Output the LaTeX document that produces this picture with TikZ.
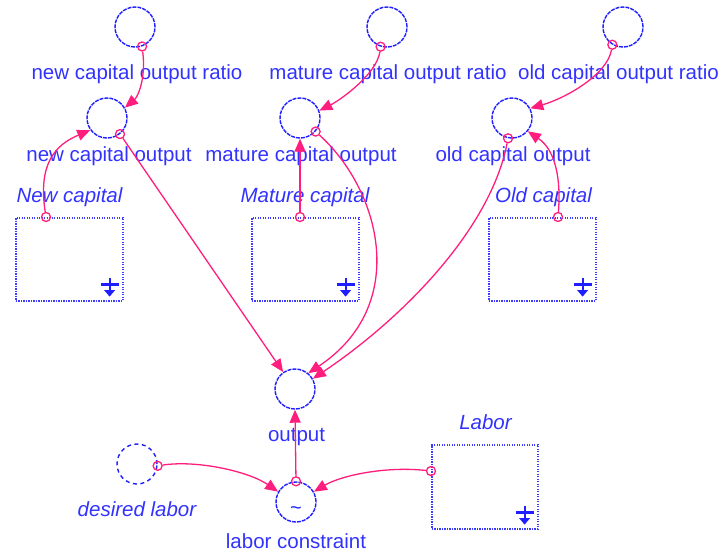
\documentclass[tikz,border=0pt]{standalone}
\usepackage{fontspec}
\setmainfont{Liberation Sans}
\usetikzlibrary{arrows.meta,calc}
\definecolor{cblue}{RGB}{30,30,255}
\definecolor{tblue}{RGB}{50,50,255}
\definecolor{bblue}{RGB}{60,60,255}
\definecolor{lpink}{RGB}{255,30,125}
\begin{document}
\begin{tikzpicture}[x=1pt,y=-1pt,
 aux/.style={circle,draw=cblue,line width=1.4pt,dash pattern=on 4pt off 1pt,minimum size=40pt,inner sep=0pt},
 ghost/.style={aux,dash pattern=on 4pt off 3.5pt},
 lvl/.style={draw=bblue,line width=1.6pt,dash pattern=on 1.3pt off 1.2pt,minimum width=107pt,minimum height=83pt,inner sep=0pt,anchor=north west},
 lab/.style={text=tblue,font=\fontsize{20.5}{24}\selectfont,inner sep=0pt,anchor=base},
 ilab/.style={lab,font=\fontsize{20.5}{24}\selectfont\itshape},
 srcdot/.style={circle,draw=lpink,line width=1.3pt,minimum size=9pt,inner sep=0pt},
 link/.style={draw=lpink,line width=1.3pt,-{Triangle[length=13pt,width=11pt]}},
]
\useasboundingbox (0,0) rectangle (727,555);
% auxiliaries
\node[aux] (ncor) at (135,27) {};
\node[aux] (ncout) at (107,118) {};
\node[aux] (mcor) at (387,27) {};
\node[aux] (mcout) at (300,118) {};
\node[aux] (ocor) at (623,27) {};
\node[aux] (ocout) at (512,118) {};
\node[aux] (out) at (295,389) {};
\node[aux] (lc) at (296,502) {};
\node[ghost] (dl) at (137,464) {};
\node[text=cblue,font=\fontsize{20}{20}\selectfont,inner sep=0pt] (lcT) at (296,511) {\textasciitilde};
% stocks
\node[lvl] (NC) at (15,217) {};
\node[lvl] (MC) at (251,217) {};
\node[lvl] (OC) at (488,217) {};
\node[lvl,minimum height=84pt,minimum width=106pt] (LB) at (431,444) {};
\foreach \b in {NC,MC,OC,LB}{
  \draw[cblue,line width=2.8pt] ([shift={(-23,-17)}]\b.south east) -- ([shift={(-5,-17)}]\b.south east);
  \draw[cblue,line width=2.2pt] ([shift={(-14,-24)}]\b.south east) -- ([shift={(-14,-9)}]\b.south east);
  \fill[cblue] ([shift={(-19.5,-11.5)}]\b.south east) -- ([shift={(-8.5,-11.5)}]\b.south east) -- ([shift={(-14,-5)}]\b.south east) -- cycle;
}
% labels
\node[lab] (ncorL) at (137,79) {new capital output ratio};
\node[lab] (mcorL) at (388,79) {mature capital output ratio};
\node[lab] (ocorL) at (618.5,79) {old capital output ratio};
\node[lab] (ncoutL) at (109,161) {new capital output};
\node[lab] (mcoutL) at (301,161) {mature capital output};
\node[lab] (ocoutL) at (513,161) {old capital output};
\node[ilab] (NCL) at (69.5,202) {New capital};
\node[ilab] (MCL) at (305,202) {Mature capital};
\node[ilab] (OCL) at (543.5,202) {Old capital};
\node[ilab] (LBL) at (485.5,429) {Labor};
\node[lab] (outL) at (296.5,441) {output};
\node[ilab] (dlL) at (137,516) {desired labor};
\node[lab] (lcL) at (296,548) {labor constraint};
% links
\node[srcdot] (d1) at (ncor.-70) {};
\draw[link] (d1) .. controls +(4,32) and +(13,-11) .. (ncout.30);
\node[srcdot] (d2) at ([xshift=31pt]NC.north west) {};
\draw[link] (d2) .. controls +(-8,-52) and +(-36,15) .. (ncout.216);
\node[srcdot] (d3) at (ncout.-51) {};
\draw[link] (d3) -- (out.125);
\node[srcdot] (d4) at (mcor.-108) {};
\draw[link] (d4) .. controls +(-4,28) and +(20,-10) .. (mcout.21);
\node[srcdot] (d5) at ([xshift=49pt]MC.north west) {};
\draw[link] (d5) -- (mcout.south);
\node[srcdot] (d6) at (mcout.-41) {};
\draw[link] (d6) .. controls +(65,59) and +(102,-68) .. (out.50);
\node[srcdot] (d7) at (ocor.-121) {};
\draw[link] (d7) .. controls +(-5,30) and +(35,-10) .. (ocout.28);
\node[srcdot] (d8) at ([xshift=70pt]OC.north west) {};
\draw[link] (d8) .. controls +(3,-37) and +(28,19) .. (ocout.-40);
\node[srcdot] (d9) at (ocout.-101) {};
\draw[link] (d9) .. controls +(-18,92) and +(88,-59) .. (out.30);
\node[srcdot] (d10) at (dl.-5) {};
\draw[link] (d10) .. controls +(40,-6) and +(-29,-20) .. (lc.150);
\node[srcdot] (d11) at (lc.90) {};
\draw[link] (d11) -- (out.-90);
\node[srcdot] (d12) at ([yshift=-27pt]LB.north west) {};
\draw[link] (d12) .. controls +(-46,-5) and +(27,-16) .. (lc.30);
\end{tikzpicture}
\end{document}
